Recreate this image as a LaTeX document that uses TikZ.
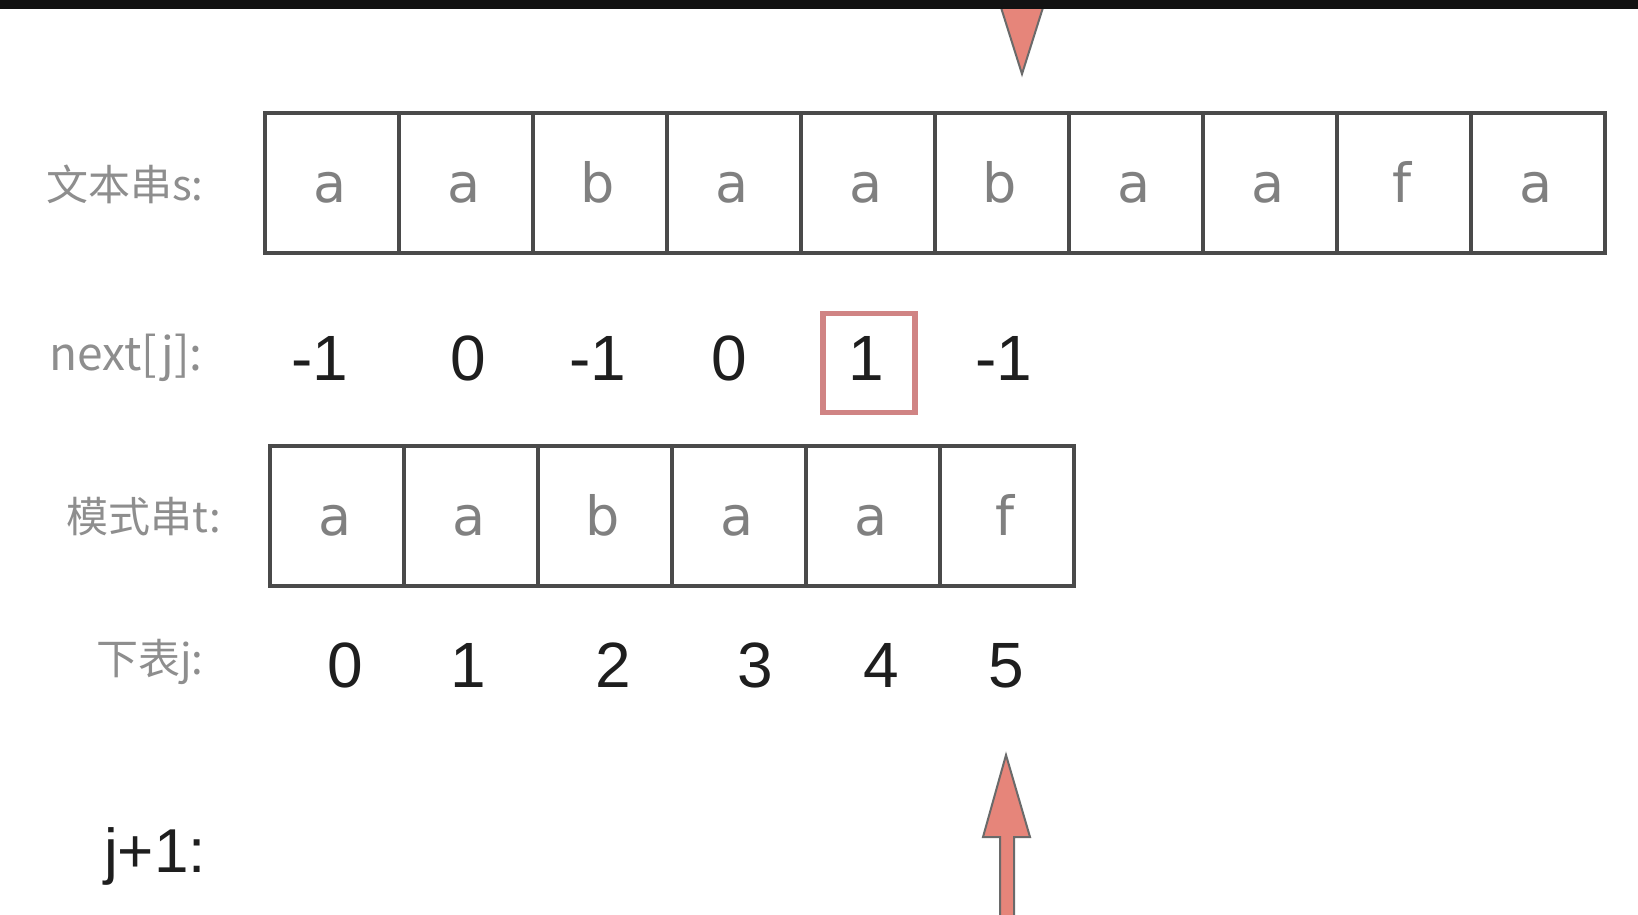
\documentclass[tikz,border=0pt]{standalone}
\usepackage{fontspec}
\setmainfont{Liberation Sans}
\newfontfamily\cjkf{Noto Sans CJK SC}
\newfontfamily\letf{DejaVu Sans}
\definecolor{cellline}{HTML}{4A4A4A}
\definecolor{lettergray}{HTML}{808080}
\definecolor{labelgray}{HTML}{8E8E8E}
\definecolor{numblack}{HTML}{1E1E1E}
\definecolor{salmon}{HTML}{E6857A}
\definecolor{boxred}{HTML}{D08484}
\definecolor{arrowedge}{HTML}{6A6A6A}
\begin{document}
\begin{tikzpicture}[x=1pt,y=-1pt,
  cellbox/.style={draw=cellline,line width=3.5pt,minimum width=134pt,minimum height=140pt,inner sep=0pt,anchor=north west},
  letter/.style={font=\letf\fontsize{54}{60}\selectfont,text=lettergray,anchor=base,inner sep=0pt},
  num/.style={font=\fontsize{64}{70}\selectfont,text=numblack,anchor=base,inner sep=0pt},
  lbl/.style={font=\cjkf\fontsize{42}{48}\selectfont,text=labelgray,inner sep=0pt},
  hl/.style={draw=boxred,line width=5.5pt,minimum width=92pt,minimum height=99pt,inner sep=0pt},
  redarrow/.style={fill=salmon,draw=arrowedge,line width=2pt,line join=miter}
]
\useasboundingbox (0,0) rectangle (1638,914);
\fill[white] (0,0) rectangle (1638,914);
% top arrow head
\coordinate (toptip) at (1022,74);
\draw[redarrow] (998,-2) -- (toptip) -- (1046,-2) -- cycle;
\fill[black!93] (0,0) rectangle (1638,9);
% text string s
\foreach \c [count=\i from 0] in {a,a,b,a,a,b,a,a,f,a}{
  \node[cellbox] (s\i) at ({263+134*\i},111) {};
  \node[letter] (sl\i) at ({263+134*\i+67},202) {\c};
}
% pattern t
\foreach \c [count=\i from 0] in {a,a,b,a,a,f}{
  \node[cellbox] (t\i) at ({268+134*\i},444) {};
  \node[letter] (tl\i) at ({268+134*\i+67},535) {\c};
}
% labels
\node[lbl] (ls) at (125,184) {文本串s:};
\node[lbl,font=\cjkf\fontsize{46}{50}\selectfont] (ln) at (126,358) {next[j]:};
\node[lbl] (lt) at (144,517) {模式串t:};
\node[lbl] (lj) at (150,662) {下表j:};
\node[num,font=\fontsize{62}{70}\selectfont] (lj1) at (155,872) {j+1:};
% next values
\node[num] (n0) at (320,380) {-1};
\node[num] (n1) at (468,380) {0};
\node[num] (n2) at (598,380) {-1};
\node[num] (n3) at (729,380) {0};
\node[num] (n4) at (866,380) {1};
\node[num] (n5) at (1004,380) {-1};
\node[hl] (hbox) at (869,363) {};
% indices
\node[num] (j0) at (345,687) {0};
\node[num] (j1) at (468,687) {1};
\node[num] (j2) at (613,687) {2};
\node[num] (j3) at (755,687) {3};
\node[num] (j4) at (881,687) {4};
\node[num] (j5) at (1006,687) {5};
% bottom arrow
\coordinate (bottip) at (1006,755);
\draw[redarrow] (1000,930) -- (1000,837) -- (983,837) -- (bottip) -- (1030,837) -- (1014,837) -- (1014,930) -- cycle;
\end{tikzpicture}
\end{document}
